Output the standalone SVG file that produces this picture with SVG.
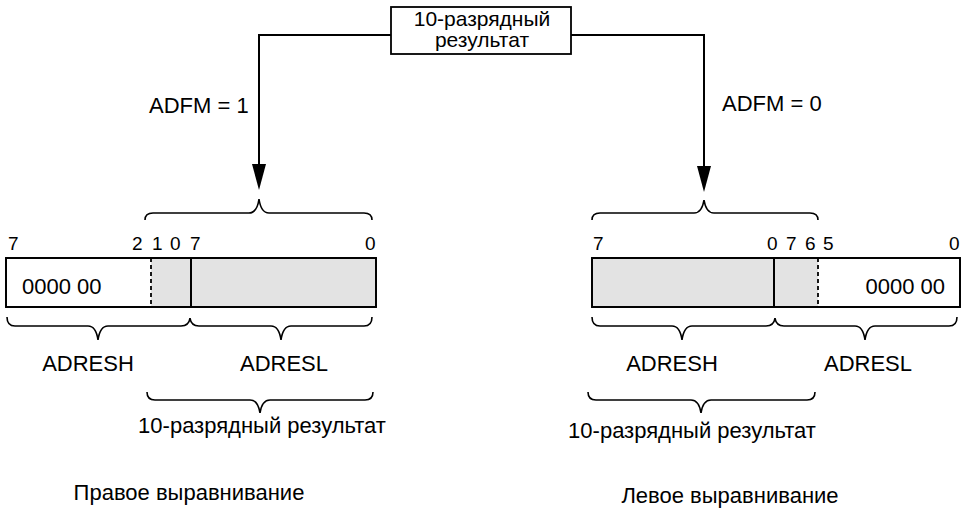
<svg xmlns="http://www.w3.org/2000/svg" width="970" height="516" viewBox="0 0 970 516">
<defs>
<style>
.t{font-family:"Liberation Sans",Arial,sans-serif;font-size:22px;fill:#000}
.h{font-family:"Liberation Sans",Arial,sans-serif;font-size:21px;fill:#000}
.b{font-family:"Liberation Sans",Arial,sans-serif;font-size:19px;fill:#000}
.ln{fill:none;stroke:#000;stroke-width:2}
.br{fill:none;stroke:#000;stroke-width:1.6}
.reg{fill:#fff;stroke:#000;stroke-width:1.8}
.gray{fill:#e3e3e3}
.dash{stroke:#000;stroke-width:1.8;stroke-dasharray:4 3}
</style>
</defs>
<rect width="970" height="516" fill="#fff"/>

<g id="connectors">
<path class="ln" d="M391,35 H259 V166"/>
<path d="M252,164 L266,164 L259,190 Z" fill="#000"/>
<path class="ln" d="M571,35 H704 V168"/>
<path d="M697,166 L711,166 L704,192 Z" fill="#000"/>
<text class="t" x="149" y="113">ADFM = 1</text>
<text class="t" x="722" y="111">ADFM = 0</text>
</g>

<g id="source">
<rect class="reg" x="391" y="7" width="180" height="47"/>
<text class="h" x="482" y="26" text-anchor="middle">10-разрядный</text>
<text class="h" x="482" y="47" text-anchor="middle">результат</text>
</g>

<g id="right-justified">
<path class="br" d="M145,220 Q145,213 153,213 L249,213 Q257,213 259,199 Q261,213 269,213 L364,213 Q372,213 372,220"/>
<text class="b" x="8" y="250">7</text>
<text class="b" x="132" y="250">2</text>
<text class="b" x="152" y="250">1</text>
<text class="b" x="170" y="250">0</text>
<text class="b" x="190" y="250">7</text>
<text class="b" x="365" y="250">0</text>
<rect class="reg" x="6" y="258" width="370" height="49"/>
<rect class="gray" x="151" y="259" width="224" height="47"/>
<line class="dash" x1="151" y1="258" x2="151" y2="307"/>
<line class="ln" x1="191" y1="258" x2="191" y2="307"/>
<rect x="6" y="258" width="370" height="49" fill="none" stroke="#000" stroke-width="1.8"/>
<text class="t" x="22" y="294">0000 00</text>
<path class="br" d="M7,317 Q7,326 15,326 L88,326 Q96,326 98,340 Q100,326 108,326 L181,326 Q189,326 190,318 Q191,326 199,326 L271,326 Q279,326 281,340 Q283,326 291,326 L364,326 Q372,326 372,317"/>
<text class="t" x="88" y="371" text-anchor="middle">ADRESH</text>
<text class="t" x="284" y="371" text-anchor="middle">ADRESL</text>
<path class="br" d="M147,392 Q147,400 155,400 L250,400 Q258,400 260,413 Q262,400 270,400 L365,400 Q373,400 373,392"/>
<text class="t" x="262" y="433" text-anchor="middle">10-разрядный результат</text>
<text class="t" x="189" y="500" text-anchor="middle">Правое выравнивание</text>
</g>

<g id="left-justified">
<path class="br" d="M592,220 Q592,213 600,213 L694,213 Q702,213 704,200 Q706,213 714,213 L810,213 Q818,213 818,220"/>
<text class="b" x="593" y="250">7</text>
<text class="b" x="767" y="250">0</text>
<text class="b" x="786" y="250">7</text>
<text class="b" x="805" y="250">6</text>
<text class="b" x="823" y="250">5</text>
<text class="b" x="949" y="250">0</text>
<rect class="reg" x="592" y="258" width="368" height="49"/>
<rect class="gray" x="593" y="259" width="225" height="47"/>
<line class="ln" x1="774" y1="258" x2="774" y2="307"/>
<line class="dash" x1="818" y1="258" x2="818" y2="307"/>
<rect x="592" y="258" width="368" height="49" fill="none" stroke="#000" stroke-width="1.8"/>
<text class="t" x="945" y="294" text-anchor="end">0000 00</text>
<path class="br" d="M592,317 Q592,326 600,326 L672,326 Q680,326 682,340 Q684,326 692,326 L766,326 Q774,326 775,318 Q776,326 784,326 L855,326 Q863,326 865,340 Q867,326 875,326 L949,326 Q957,326 957,317"/>
<text class="t" x="672" y="371" text-anchor="middle">ADRESH</text>
<text class="t" x="868" y="371" text-anchor="middle">ADRESL</text>
<path class="br" d="M588,392 Q588,400 596,400 L691,400 Q699,400 701,413 Q703,400 711,400 L807,400 Q815,400 815,392"/>
<text class="t" x="692" y="438" text-anchor="middle">10-разрядный результат</text>
<text class="t" x="730" y="503" text-anchor="middle">Левое выравнивание</text>
</g>
</svg>
